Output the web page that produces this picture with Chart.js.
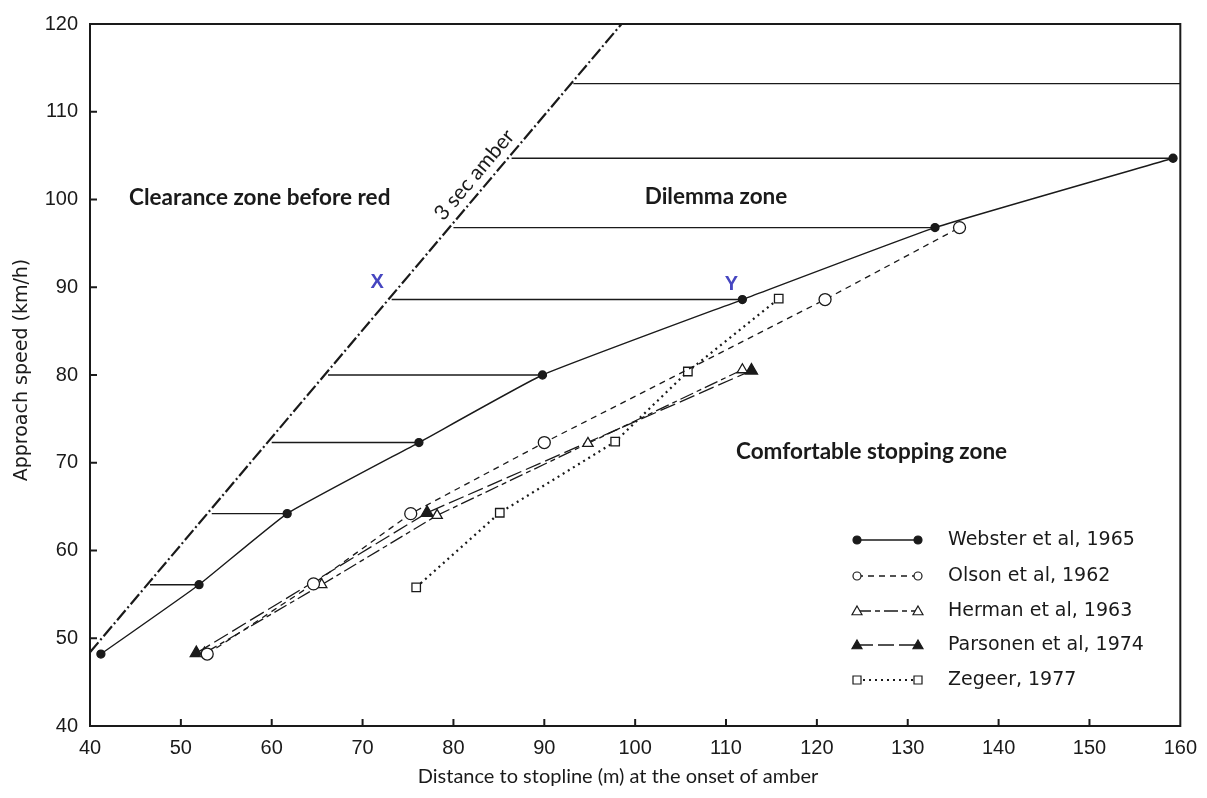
<!DOCTYPE html>
<html>
<head>
<meta charset="utf-8">
<script src="https://cdn.jsdelivr.net/npm/chart.js@4.4.1/dist/chart.umd.min.js"></script>
<style>
  html, body { margin: 0; padding: 0; background: #fff; }
  #wrap { width: 1207px; height: 798px; }
</style>
</head>
<body>
<div id="wrap"><canvas id="chart" width="1207" height="798"></canvas></div>
<script>
// axis ticks
const xTicks = [40, 50, 60, 70, 80, 90, 100, 110, 120, 130, 140, 150, 160];
const yTicks = [40, 50, 60, 70, 80, 90, 100, 110, 120];

// 3 sec amber line
const amberX = [40, 98.5];
const amberY = [48.4, 120];

// Webster et al, 1965
const websterX = [41.2, 52.0, 61.7, 76.2, 89.8, 111.8, 133.0, 159.2];
const websterY = [48.2, 56.1, 64.2, 72.3, 80.0, 88.6, 96.8, 104.7];

// Olson et al, 1962
const olsonX = [52.9, 64.6, 75.3, 90.0, 120.9, 135.7];
const olsonY = [48.2, 56.2, 64.2, 72.3, 88.6, 96.8];

// Herman et al, 1963
const hermanX = [52.6, 65.5, 78.2, 94.8, 111.8];
const hermanY = [48.3, 56.1, 64.0, 72.2, 80.6];

// Parsonen et al, 1974
const parsonenX = [51.7, 77.1, 112.8];
const parsonenY = [48.3, 64.3, 80.5];

// Zegeer, 1977
const zegeerX = [75.9, 85.1, 97.8, 105.8, 115.8];
const zegeerY = [55.8, 64.3, 72.4, 80.4, 88.7];

// horizontal dilemma zone lines (from amber line to Webster curve)
const zoneY      = [56.1, 64.2, 72.3, 80.0, 88.6, 96.8, 104.7, 113.2];
const zoneStartX = [46.6, 53.4, 60.0, 66.2, 73.2, 80.0, 86.4, 93.2];
const zoneEndX   = [52.0, 61.7, 76.2, 89.8, 111.8, 133.0, 159.2, 160];

const seriesNames = ["Webster et al, 1965", "Olson et al, 1962", "Herman et al, 1963", "Parsonen et al, 1974", "Zegeer, 1977"];

const pts = (xs, ys) => xs.map((x, i) => ({ x, y: ys[i] }));
const INK = "#1a1a1a";

const zoneSets = zoneY.map((yv, i) => ({
    data: [{ x: zoneStartX[i], y: yv }, { x: zoneEndX[i], y: yv }],
    borderColor: INK, borderWidth: 1.4, pointRadius: 0, showLine: true, order: 5
}));

const series = [
    { data: pts(websterX, websterY), borderColor: INK, borderWidth: 1.4, borderDash: [],
      pointStyle: "circle", pointRadius: 4, pointBackgroundColor: INK, tension: 0.12 },
    { data: pts(olsonX, olsonY), borderColor: INK, borderWidth: 1.3, borderDash: [6, 5],
      pointStyle: "circle", pointRadius: 6, pointBackgroundColor: "#fff" },
    { data: pts(hermanX, hermanY), borderColor: INK, borderWidth: 1.3, borderDash: [14, 4, 5, 4],
      pointStyle: "triangle", pointRadius: 6, pointBackgroundColor: "#fff" },
    { data: pts(parsonenX, parsonenY), borderColor: INK, borderWidth: 1.3, borderDash: [16, 5],
      pointStyle: "triangle", pointRadius: 7, pointBackgroundColor: INK },
    { data: pts(zegeerX, zegeerY), borderColor: INK, borderWidth: 2.2, borderDash: [2, 4],
      pointStyle: "rect", pointRadius: 6, pointBackgroundColor: "#fff" }
].map((s, i) => Object.assign({ label: seriesNames[i], showLine: true, pointBorderColor: INK,
      pointBorderWidth: 1.3, order: 1 }, s));

const amberSet = {
    data: pts(amberX, amberY), borderColor: INK, borderWidth: 2.2, borderDash: [13, 3, 2, 3],
    pointRadius: 0, showLine: true, order: 4
};

function marker(ctx, style, fill, x, y, r) {
    ctx.save();
    ctx.setLineDash([]);
    ctx.lineWidth = 1.2;
    ctx.strokeStyle = INK;
    ctx.fillStyle = fill;
    ctx.beginPath();
    if (style === "circle") ctx.arc(x, y, r, 0, Math.PI * 2);
    else if (style === "triangle") { ctx.moveTo(x, y - r); ctx.lineTo(x + r, y + r * 0.75); ctx.lineTo(x - r, y + r * 0.75); ctx.closePath(); }
    else ctx.rect(x - r, y - r, r * 2, r * 2);
    ctx.fill();
    ctx.stroke();
    ctx.restore();
}

const decor = {
    id: "decor",
    afterDraw(chart) {
        const { ctx, chartArea: a, scales: { x, y } } = chart;
        ctx.save();
        // frame
        ctx.strokeStyle = INK;
        ctx.lineWidth = 2;
        ctx.strokeRect(a.left, a.top, a.right - a.left, a.bottom - a.top);
        // inward ticks
        x.ticks.forEach(t => {
            if (t.value <= 40 || t.value >= 160) return;
            const px = x.getPixelForValue(t.value);
            ctx.beginPath(); ctx.moveTo(px, a.bottom); ctx.lineTo(px, a.bottom - 7); ctx.stroke();
        });
        y.ticks.forEach(t => {
            if (t.value <= 40 || t.value >= 120) return;
            const py = y.getPixelForValue(t.value);
            ctx.beginPath(); ctx.moveTo(a.left, py); ctx.lineTo(a.left + 7, py); ctx.stroke();
        });

        // axis titles
        ctx.fillStyle = INK;
        ctx.textAlign = "center";
        ctx.textBaseline = "middle";
        ctx.font = "20px Lato";
        ctx.fillText("Distance to stopline (m) at the onset of amber", 618, 777);
        ctx.save();
        ctx.translate(22, 370);
        ctx.rotate(-Math.PI / 2);
        ctx.font = "19px 'DejaVu Sans'";
        ctx.fillText("Approach speed (km/h)", 0, 0);
        ctx.restore();

        // zone labels
        ctx.font = "bold 22.5px Lato";
        ctx.textAlign = "left";
        ctx.fillText("Clearance zone before red", x.getPixelForValue(44.3), y.getPixelForValue(100.2));
        ctx.fillText("Comfortable stopping zone", x.getPixelForValue(111.1), y.getPixelForValue(71.2));
        ctx.textAlign = "center";
        ctx.fillText("Dilemma zone", x.getPixelForValue(108.9), y.getPixelForValue(100.3));

        // 3 sec amber
        const ang = Math.atan2(y.getPixelForValue(amberY[1]) - y.getPixelForValue(amberY[0]),
                               x.getPixelForValue(amberX[1]) - x.getPixelForValue(amberX[0]));
        ctx.save();
        ctx.translate(x.getPixelForValue(82.3), y.getPixelForValue(102.8));
        ctx.rotate(ang);
        ctx.font = "21px Lato";
        ctx.fillText("3 sec amber", 0, 0);
        ctx.restore();

        // X / Y points
        ctx.fillStyle = "#4646c0";
        ctx.font = "bold 20px 'Liberation Sans'";
        ctx.fillText("X", x.getPixelForValue(71.6), y.getPixelForValue(90.5));
        ctx.fillText("Y", x.getPixelForValue(110.6), y.getPixelForValue(90.3));

        // legend
        const rows = [540, 576, 611, 645, 680];
        series.forEach((s, i) => {
            const py = rows[i];
            ctx.save();
            ctx.strokeStyle = INK;
            ctx.lineWidth = s.borderWidth;
            ctx.setLineDash(s.borderDash);
            ctx.beginPath(); ctx.moveTo(857, py); ctx.lineTo(918, py); ctx.stroke();
            ctx.restore();
            const r = s.pointStyle === "triangle" ? 5 : 4;
            marker(ctx, s.pointStyle, s.pointBackgroundColor, 857, py, r);
            marker(ctx, s.pointStyle, s.pointBackgroundColor, 918, py, r);
            ctx.fillStyle = INK;
            ctx.font = "19px 'DejaVu Sans'";
            ctx.textAlign = "left";
            ctx.fillText(seriesNames[i], 948, py);
        });
        ctx.restore();
    }
};

new Chart(document.getElementById("chart"), {
    type: "scatter",
    data: { datasets: [...series, amberSet, ...zoneSets] },
    options: {
        responsive: false,
        animation: false,
        layout: { padding: { top: 19, right: 26, left: 0, bottom: 0 } },
        plugins: { legend: { display: false }, tooltip: { enabled: false } },
        scales: {
            x: {
                type: "linear", min: 40, max: 160,
                afterBuildTicks: s => { s.ticks = xTicks.map(v => ({ value: v })); },
                afterFit: s => { s.height = 72; },
                grid: { display: false, drawTicks: false },
                border: { display: false },
                ticks: { padding: 10, color: INK, font: { family: "'Liberation Sans'", size: 20 } }
            },
            y: {
                type: "linear", min: 40, max: 120,
                afterBuildTicks: s => { s.ticks = yTicks.map(v => ({ value: v })); },
                afterFit: s => { s.width = 90; },
                grid: { display: false, drawTicks: false },
                border: { display: false },
                ticks: { padding: 12, color: INK, font: { family: "'Liberation Sans'", size: 20 } }
            }
        }
    },
    plugins: [decor]
});
</script>
</body>
</html>
